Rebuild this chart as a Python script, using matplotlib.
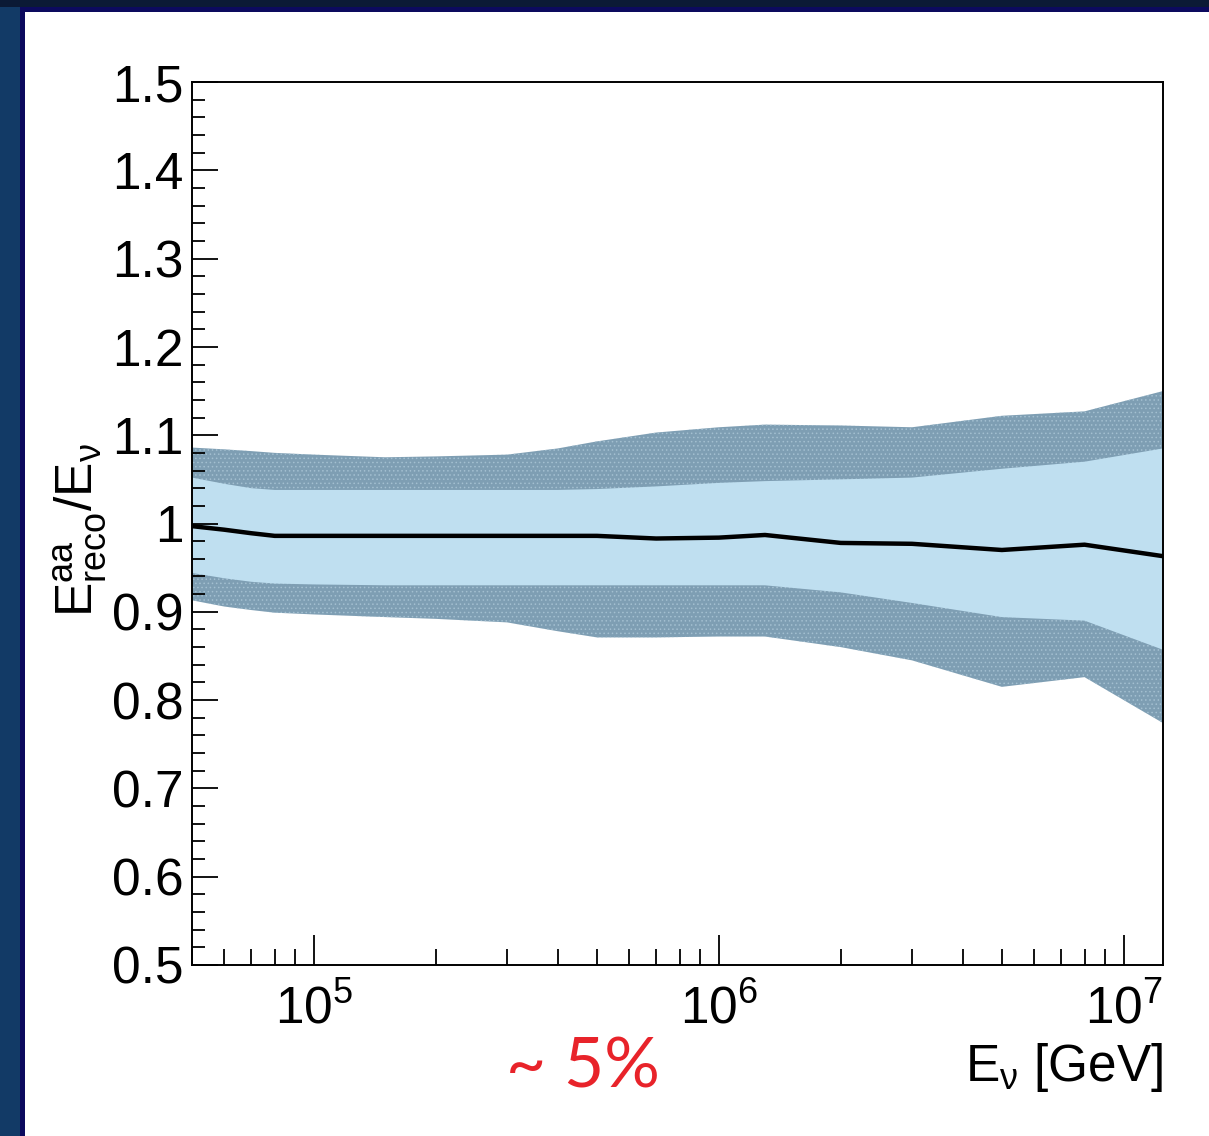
import matplotlib
matplotlib.use("Agg")
import matplotlib.pyplot as plt
from matplotlib.patches import Rectangle
from matplotlib.ticker import FixedLocator, NullFormatter

plt.rcParams["font.family"] = ["Liberation Sans", "DejaVu Sans"]
plt.rcParams["mathtext.fontset"] = "custom"
plt.rcParams["mathtext.rm"] = "Liberation Sans"
plt.rcParams["mathtext.it"] = "Liberation Sans"
plt.rcParams["mathtext.default"] = "regular"
plt.rcParams["hatch.linewidth"] = 0.6

# neutrino energy [GeV]
energy = [5e4, 6e4, 7e4, 8e4, 1e5, 1.5e5, 2e5, 3e5, 4e5, 5e5, 7e5,
          1e6, 1.3e6, 2e6, 3e6, 5e6, 8e6, 1.25e7]

# median of E_reco/E_nu
median = [0.997, 0.993, 0.989, 0.986, 0.986, 0.986, 0.986, 0.986, 0.986, 0.986, 0.983,
          0.984, 0.987, 0.978, 0.977, 0.970, 0.976, 0.963]

# inner band (light)
inner_hi = [1.052, 1.045, 1.040, 1.038, 1.038, 1.038, 1.038, 1.038, 1.038, 1.039, 1.042,
            1.046, 1.048, 1.050, 1.052, 1.062, 1.070, 1.085]
inner_lo = [0.944, 0.938, 0.934, 0.932, 0.931, 0.930, 0.930, 0.930, 0.930, 0.930, 0.930,
            0.930, 0.930, 0.922, 0.910, 0.894, 0.890, 0.857]

# outer band (dark)
outer_hi = [1.086, 1.084, 1.082, 1.080, 1.078, 1.075, 1.076, 1.078, 1.085, 1.093, 1.103,
            1.109, 1.112, 1.111, 1.109, 1.122, 1.127, 1.150]
outer_lo = [0.913, 0.906, 0.902, 0.899, 0.897, 0.894, 0.892, 0.888, 0.878, 0.871, 0.871,
            0.872, 0.872, 0.860, 0.845, 0.815, 0.826, 0.774]

ytick_vals = [0.5, 0.6, 0.7, 0.8, 0.9, 1.0, 1.1, 1.2, 1.3, 1.4, 1.5]
ytick_labels = ["0.5", "0.6", "0.7", "0.8", "0.9", "1", "1.1", "1.2", "1.3", "1.4", "1.5"]
xtick_vals = [1e5, 1e6, 1e7]
xtick_labels = [r"$10^{5}$", r"$10^{6}$", r"$10^{7}$"]

W, H = 1209, 1136
fig = plt.figure(figsize=(W / 100, H / 100), dpi=100, facecolor="white")

# slide background strips
fig.add_artist(Rectangle((0, 0), 20 / W, 1, transform=fig.transFigure,
                         facecolor="#123a66", edgecolor="none"))
fig.add_artist(Rectangle((0, 1 - 7 / H), 1, 7 / H, transform=fig.transFigure,
                         facecolor="#0b1a35", edgecolor="none"))
fig.add_artist(Rectangle((20 / W, 0), 5 / W, 1 - 7 / H, transform=fig.transFigure,
                         facecolor="#0c0a5e", edgecolor="none"))
fig.add_artist(Rectangle((20 / W, 1 - 12 / H), 1 - 20 / W, 5 / H, transform=fig.transFigure,
                         facecolor="#0c0a5e", edgecolor="none"))

ax = fig.add_axes([192 / W, 1 - 965 / H, (1163 - 192) / W, (965 - 82) / H])

ax.fill_between(energy, outer_lo, outer_hi, facecolor="#7e9eb3",
                hatch="....", edgecolor="#a3bfd0", linewidth=0)
ax.fill_between(energy, inner_lo, inner_hi, facecolor="#bfdff0", linewidth=0)
ax.plot(energy, median, color="black", lw=3.2)

ax.set_xscale("log")
ax.set_xlim(5e4, 1.25e7)
ax.set_ylim(0.5, 1.5)

ax.yaxis.set_major_locator(FixedLocator(ytick_vals))
ax.set_yticklabels(ytick_labels)
ax.yaxis.set_minor_locator(FixedLocator([0.5 + 0.02 * i for i in range(51)]))

ax.xaxis.set_major_locator(FixedLocator(xtick_vals))
ax.set_xticklabels(xtick_labels)
minors = [m * 10 ** k for k in (4, 5, 6) for m in range(2, 10)]
ax.xaxis.set_minor_locator(FixedLocator(minors))
ax.xaxis.set_minor_formatter(NullFormatter())

ax.tick_params(axis="y", which="major", direction="in", length=18.5, width=1.3,
               labelsize=37, pad=6)
ax.tick_params(axis="y", which="minor", direction="in", length=9.5, width=1.3)
ax.tick_params(axis="x", which="major", direction="in", length=21.5, width=1.3,
               labelsize=37, pad=14)
ax.tick_params(axis="x", which="minor", direction="in", length=11.5, width=1.3)
for s in ax.spines.values():
    s.set_linewidth(1.4)

fig.text(80 / W, 1 - 530 / H, r"$E^{aa}_{reco}/E_{ν}$", rotation=90,
         ha="center", va="center", fontsize=37)
fig.text(1163 / W, 1 - 1068 / H, r"$E_{ν}$ [GeV]", ha="right", va="center",
         fontsize=37)
fig.text(583 / W, 1 - 1068 / H, "~ 5%", ha="center", va="center", fontsize=50,
         color="#e8232a", family=["Lato", "DejaVu Sans"])

fig.savefig("out.png", dpi=100, facecolor="white")
